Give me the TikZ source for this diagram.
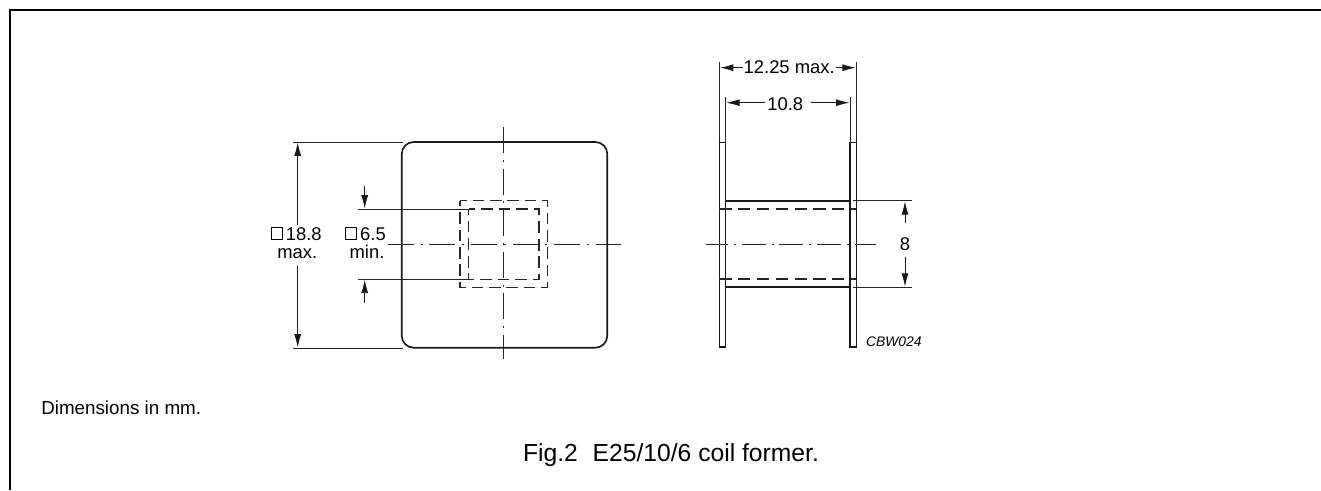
\documentclass[tikz,border=0pt]{standalone}
\usepackage{fontspec}
\setmainfont{Liberation Sans}
\usetikzlibrary{arrows.meta}
\tikzset{
  x=0.75pt,y=-0.75pt,
  outline/.style={line width=1.25pt,black!90},
  flange/.style={line width=1pt,black!90},
  thin line/.style={line width=0.7pt,black!85},
  centre/.style={line width=0.6pt,black!85,dash pattern=on 19.5pt off 5.1pt on 1.5pt off 5.1pt},
  centre side/.style={line width=0.6pt,black!85,dash pattern=on 18pt off 4.4pt on 1.5pt off 4.4pt,dash phase=1.5pt},
  hidden out/.style={line width=0.95pt,black!85,dash pattern=on 8.7pt off 4.35pt,dash phase=4.35pt},
  hidden in/.style={line width=0.95pt,black!85,dash pattern=on 8.8pt off 4.38pt,dash phase=4.4pt},
  hidden side/.style={line width=0.95pt,black!85,dash pattern=on 9.2pt off 4.9pt},
  dimend/.style={line width=0.6pt,black!90,-{Latex[length=10pt,width=5.2pt]}},
  lab/.style={inner sep=0pt,font=\fontsize{13.8pt}{16pt}\selectfont,anchor=base},
  sq/.style={draw,line width=0.65pt,minimum size=8.6pt,inner sep=0pt,anchor=south west}
}
\begin{document}
\begin{tikzpicture}
\useasboundingbox (0,0) rectangle (1321,490);
% frame
\coordinate (fbl) at (10,490);
\coordinate (ftl) at (10,10);
\coordinate (ftr) at (1321,10);
\draw[line width=1.5pt] (fbl) -- (ftl) -- (ftr);
% front view
\draw[outline,rounded corners=9pt] (401.7,142) rectangle (607.3,347.7);
\draw[hidden out] (460,200.5) rectangle (547.5,287.5);
\draw[hidden in] (468.5,209) rectangle (539,279.5);
\draw[centre] (387.7,244) -- (620.7,244);
\draw[centre] (503.7,127) -- (503.7,359);
% front view dims
\draw[thin line] (293,142) -- (403,142);
\draw[thin line] (293,348) -- (403,348);
\draw[thin line] (357.5,209) -- (468,209);
\draw[thin line] (358,279.3) -- (468,279.3);
\coordinate (a1) at (297.7,142.5);
\coordinate (a2) at (297.7,225);
\coordinate (a3) at (297.7,266);
\coordinate (a4) at (297.7,347.5);
\draw[dimend] (a2) -- (a1);
\draw[dimend] (a3) -- (a4);
\coordinate (b1) at (364.7,186);
\coordinate (b2) at (364.7,208.5);
\coordinate (b3) at (364.7,303);
\coordinate (b4) at (364.7,279.8);
\draw[dimend] (b1) -- (b2);
\draw[dimend] (b3) -- (b4);
\node[lab] (t188) at (303.8,240) {18.8};
\node[lab] (tmax) at (297.3,258.3) {max.};
\node[sq] (s188) at (271,239.5) {};
\node[lab] (t65) at (373,240) {6.5};
\node[lab] (tmin) at (367,258.3) {min.};
\node[sq] (s65) at (345,239.5) {};
% side view
\draw[flange] (719.3,142.3) rectangle (725.7,347);
\draw[flange] (850,142.3) rectangle (856.3,347);
\draw[outline] (725.7,200.7) -- (850,200.7);
\draw[outline] (725.7,287.3) -- (850,287.3);
\draw[hidden side] (719.3,209) -- (856.3,209);
\draw[hidden side] (719.3,279) -- (856.3,279);
\draw[centre side] (706,244) -- (875.7,244);
% side dims
\draw[thin line] (719.3,61.7) -- (719.3,142);
\draw[thin line] (856.3,61.7) -- (856.3,142);
\draw[thin line] (725.7,96.7) -- (725.7,142);
\draw[thin line] (850,96.7) -- (850,142);
\draw[thin line] (853,200.7) -- (911.7,200.7);
\draw[thin line] (853,287.3) -- (911.7,287.3);
\coordinate (c1) at (720,67.7);
\coordinate (c2) at (743,67.7);
\coordinate (c3) at (835.7,67.7);
\coordinate (c4) at (855.7,67.7);
\draw[dimend] (c2) -- (c1);
\draw[dimend] (c3) -- (c4);
\coordinate (d1) at (726.3,102.7);
\coordinate (d2) at (765,102.7);
\coordinate (d3) at (810.7,102.7);
\coordinate (d4) at (849.4,102.7);
\draw[dimend] (d2) -- (d1);
\draw[dimend] (d3) -- (d4);
\coordinate (e1) at (905,201.3);
\coordinate (e2) at (905,223);
\coordinate (e3) at (905,257.3);
\coordinate (e4) at (905,286.7);
\draw[dimend] (e2) -- (e1);
\draw[dimend] (e3) -- (e4);
\node[lab] (t1225) at (789.2,73.3) {12.25 max.};
\node[lab] (t108) at (785.3,110) {10.8};
\node[lab] (t8) at (905,250) {8};
\node[lab,font=\fontsize{10.4pt}{12pt}\selectfont\itshape] (tcbw) at (893.8,346.7) {CBW024};
\node[lab,anchor=base west,font=\fontsize{14.1pt}{16pt}\selectfont] (tdim) at (41,414.5) {Dimensions in mm.};
\node[inner sep=0pt,anchor=base,font=\fontsize{18.5pt}{21pt}\selectfont] (tfig) at (671,461.7) {Fig.2\hspace{0.6em}E25/10/6 coil former.};
\end{tikzpicture}
\end{document}
